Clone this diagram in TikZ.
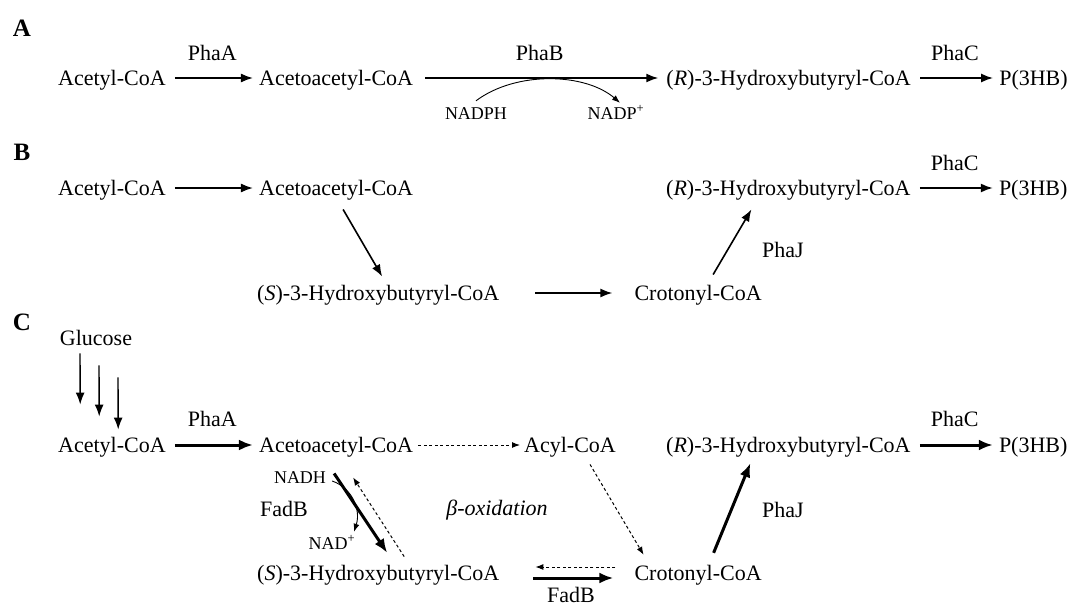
\documentclass[tikz,border=0pt]{standalone}
\usepackage{fontspec}
\setmainfont{Liberation Serif}
\usetikzlibrary{arrows.meta,positioning}
\tikzstyle{met} = [inner sep=0pt, text height=14.5pt, text depth=0pt]
\tikzstyle{enz} = [inner sep=0pt, text height=14.5pt, text depth=0pt]
\tikzstyle{cofac} = [inner sep=0pt, text height=12pt, text depth=0pt,
    font=\fontsize{18}{20}\selectfont]
\tikzstyle{panel} = [inner sep=0pt, font=\bfseries\fontsize{25}{28}\selectfont]
\tikzstyle{line} = [draw, line width=1.6pt, -{Latex[length=12pt,width=9pt]},
    shorten <=9pt, shorten >=6pt]
\tikzstyle{boldline} = [draw, line width=3pt, -{Latex[length=14pt,width=11pt]},
    shorten <=9pt, shorten >=6pt]
\tikzstyle{dashline} = [draw, line width=1pt, dash pattern=on 3pt off 2.5pt,
    -{Latex[length=8pt,width=6pt]}]
\tikzstyle{cofline} = [draw, line width=0.9pt, -{Latex[length=8pt,width=6pt]}]

\begin{document}
\begin{tikzpicture}[x=1pt, y=-1pt, font=\fontsize{22}{26}\selectfont]
        \useasboundingbox (0,0) rectangle (1088,608);

        % Place nodes: A
        \node [panel] (labA) at (22,28) {A};
        \node [met, anchor=west] (acetylA) at (58,78) {Acetyl-CoA};
        \node [met, right=93pt of acetylA] (acetoA) {Acetoacetyl-CoA};
        \node [met, right=253pt of acetoA] (rhbA) {(\textit{R})-3-Hydroxybutyryl-CoA};
        \node [met, right=88pt of rhbA] (phbA) {P(3HB)};
        \node [cofac] (nadphA) at (476,113) {NADPH};
        \node [cofac] (nadpA) at (616,113) {NADP\textsuperscript{+}};

        % Place nodes: B
        \node [panel] (labB) at (22,152) {B};
        \node [met, anchor=west] (acetylB) at (58,188) {Acetyl-CoA};
        \node [met, right=93pt of acetylB] (acetoB) {Acetoacetyl-CoA};
        \node [met, anchor=west] (shbB) at (257,293) {(\textit{S})-3-Hydroxybutyryl-CoA};
        \node [met, right=135pt of shbB] (crotB) {Crotonyl-CoA};
        \node [met, anchor=west] (rhbB) at (666,188) {(\textit{R})-3-Hydroxybutyryl-CoA};
        \node [met, right=88pt of rhbB] (phbB) {P(3HB)};
        \node [enz] (phajB) at (783,250) {PhaJ};

        % Place nodes: C
        \node [panel] (labC) at (22,322) {C};
        \node [met] (glc) at (96,338) {Glucose};
        \node [met, anchor=west] (acetylC) at (58,445) {Acetyl-CoA};
        \node [met, right=93pt of acetylC] (acetoC) {Acetoacetyl-CoA};
        \node [met, anchor=west] (acylC) at (524,445) {Acyl-CoA};
        \node [met, anchor=west] (rhbC) at (666,445) {(\textit{R})-3-Hydroxybutyryl-CoA};
        \node [met, right=88pt of rhbC] (phbC) {P(3HB)};
        \node [met, anchor=west] (shbC) at (257,573) {(\textit{S})-3-Hydroxybutyryl-CoA};
        \node [met, right=135pt of shbC] (crotC) {Crotonyl-CoA};
        \node [cofac] (nadhC) at (300,477) {NADH};
        \node [cofac] (nadC) at (332,543) {NAD\textsuperscript{+}};
        \node [enz] (fadbC) at (284,509) {FadB};
        \node [enz] (fadbC2) at (571,595) {FadB};
        \node [enz] (betaox) at (497,508) {\textit{β-oxidation}};
        \node [enz] (phajC) at (783,510) {PhaJ};

        % Draw edges: A
        \path [line] (acetylA) -- node [enz, above=17pt] {PhaA} (acetoA);
        \path [line, shorten <=12pt, shorten >=8pt] (acetoA) -- node [enz, above=17pt] {PhaB} (rhbA);
        \path [line] (rhbA) -- node [enz, above=17pt] {PhaC} (phbA);
        \path [cofline] ([yshift=6pt]nadphA.north) .. controls +(40pt,30pt) and +(-35pt,30pt) .. ([xshift=4pt,yshift=4pt]nadpA.north);

        % Draw edges: B
        \path [line] (acetylB) -- (acetoB);
        \path [line, shorten <=0pt, shorten >=0pt] ([xshift=7pt,yshift=-14pt]acetoB.south) -- ([xshift=4pt,yshift=9pt]shbB.north);
        \path [line, shorten <=36pt, shorten >=22pt] (shbB) -- (crotB);
        \path [line, shorten <=0pt, shorten >=0pt] ([xshift=15pt,yshift=11pt]crotB.north) -- ([xshift=-37pt,yshift=-14pt]rhbB.south);
        \path [line] (rhbB) -- node [enz, above=17pt] {PhaC} (phbB);

        % Draw edges: C
        \path [line, line width=1.4pt, shorten <=0pt, shorten >=0pt] ([xshift=-16pt,yshift=-8pt]glc.south) -- ([xshift=-31.75pt,yshift=33pt]acetylC.north);
        \path [line, line width=1.4pt, shorten <=0pt, shorten >=0pt] ([xshift=3pt,yshift=-20pt]glc.south) -- ([xshift=-12.75pt,yshift=21pt]acetylC.north);
        \path [line, line width=1.4pt, shorten <=0pt, shorten >=0pt] ([xshift=22pt,yshift=-32pt]glc.south) -- ([xshift=6.25pt,yshift=8pt]acetylC.north);
        \path [boldline] (acetylC) -- node [enz, above=17pt] {PhaA} (acetoC);
        \path [dashline, shorten <=5pt, shorten >=4pt] (acetoC) -- (acylC);
        \path [dashline] ([xshift=20pt,yshift=-12pt]acylC.south) -- ([xshift=-54.5pt,yshift=10.75pt]crotC.north);
        \path [boldline, shorten <=0pt, shorten >=0pt] ([xshift=15.5pt,yshift=12.75pt]crotC.north) -- ([xshift=-38pt,yshift=-10.75pt]rhbC.south);
        \path [boldline] (rhbC) -- node [enz, above=17pt] {PhaC} (phbC);
        \path [boldline, shorten <=34pt, shorten >=21pt] ([yshift=-5pt]shbC.east) -- ([yshift=-5pt]crotC.west);
        \path [dashline, shorten <=19pt, shorten >=36pt] ([yshift=6pt]crotC.west) -- ([yshift=6pt]shbC.east);
        \path [boldline, shorten <=0pt, shorten >=0pt] ([xshift=-2pt,yshift=-21pt]acetoC.south) -- ([xshift=9pt,yshift=12.75pt]shbC.north);
        \path [dashline] ([xshift=26pt,yshift=9pt]shbC.north) -- ([xshift=17pt,yshift=-25pt]acetoC.south);
        \path [cofline] ([xshift=6pt,yshift=-4pt]nadhC.east) .. controls +(20pt,-7pt) and +(7pt,22pt) .. ([xshift=22pt,yshift=5pt]nadC.north);

\end{tikzpicture}
\end{document}
